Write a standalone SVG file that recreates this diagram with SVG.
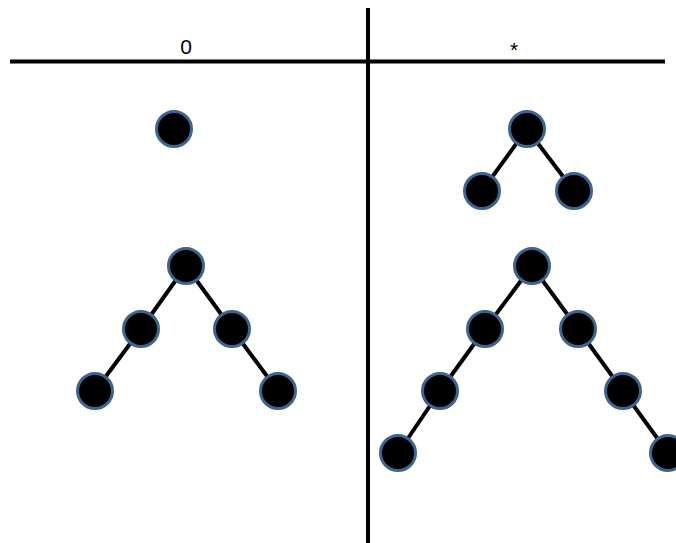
<svg xmlns="http://www.w3.org/2000/svg" width="676" height="543" viewBox="0 0 676 543">
<style>
.n{fill:#000;stroke:#3d6590;stroke-width:3}
.e{stroke:#000;stroke-width:4;fill:none}
.a{stroke:#000;stroke-width:4}
.t{font-family:"Liberation Sans",Arial,sans-serif;font-size:21px;fill:#000;text-anchor:middle}
</style>
<rect width="676" height="543" fill="#fff"/>
<g id="axes">
<line class="a" x1="10" y1="61.5" x2="665" y2="61.5"/>
<line class="a" x1="368" y1="8" x2="368" y2="543"/>
</g>
<text class="t" x="186" y="54">0</text>
<text class="t" x="514" y="57">*</text>
<g id="connectors">
<line class="e" x1="527" y1="129" x2="482" y2="191"/>
<line class="e" x1="527" y1="129" x2="574" y2="191"/>
<line class="e" x1="186" y1="266" x2="141" y2="329"/>
<line class="e" x1="141" y1="329" x2="95" y2="391"/>
<line class="e" x1="186" y1="266" x2="232" y2="329"/>
<line class="e" x1="232" y1="329" x2="278" y2="391"/>
<line class="e" x1="532" y1="266" x2="485" y2="329"/>
<line class="e" x1="485" y1="329" x2="440" y2="391"/>
<line class="e" x1="440" y1="391" x2="398" y2="453"/>
<line class="e" x1="532" y1="266" x2="578" y2="329"/>
<line class="e" x1="578" y1="329" x2="623" y2="391"/>
<line class="e" x1="623" y1="391" x2="668" y2="453"/>
</g>
<g id="n1"><circle class="n" cx="174" cy="129" r="17.5"/></g>
<g id="n2"><circle class="n" cx="527" cy="129" r="17.5"/></g>
<g id="n3"><circle class="n" cx="482" cy="191" r="17.5"/></g>
<g id="n4"><circle class="n" cx="574" cy="191" r="17.5"/></g>
<g id="n5"><circle class="n" cx="186" cy="266" r="17.5"/></g>
<g id="n6"><circle class="n" cx="141" cy="329" r="17.5"/></g>
<g id="n7"><circle class="n" cx="232" cy="329" r="17.5"/></g>
<g id="n8"><circle class="n" cx="95" cy="391" r="17.5"/></g>
<g id="n9"><circle class="n" cx="278" cy="391" r="17.5"/></g>
<g id="n10"><circle class="n" cx="532" cy="266" r="17.5"/></g>
<g id="n11"><circle class="n" cx="485" cy="329" r="17.5"/></g>
<g id="n12"><circle class="n" cx="578" cy="329" r="17.5"/></g>
<g id="n13"><circle class="n" cx="440" cy="391" r="17.5"/></g>
<g id="n14"><circle class="n" cx="623" cy="391" r="17.5"/></g>
<g id="n15"><circle class="n" cx="398" cy="453" r="17.5"/></g>
<g id="n16"><circle class="n" cx="668" cy="453" r="17.5"/></g>
</svg>
